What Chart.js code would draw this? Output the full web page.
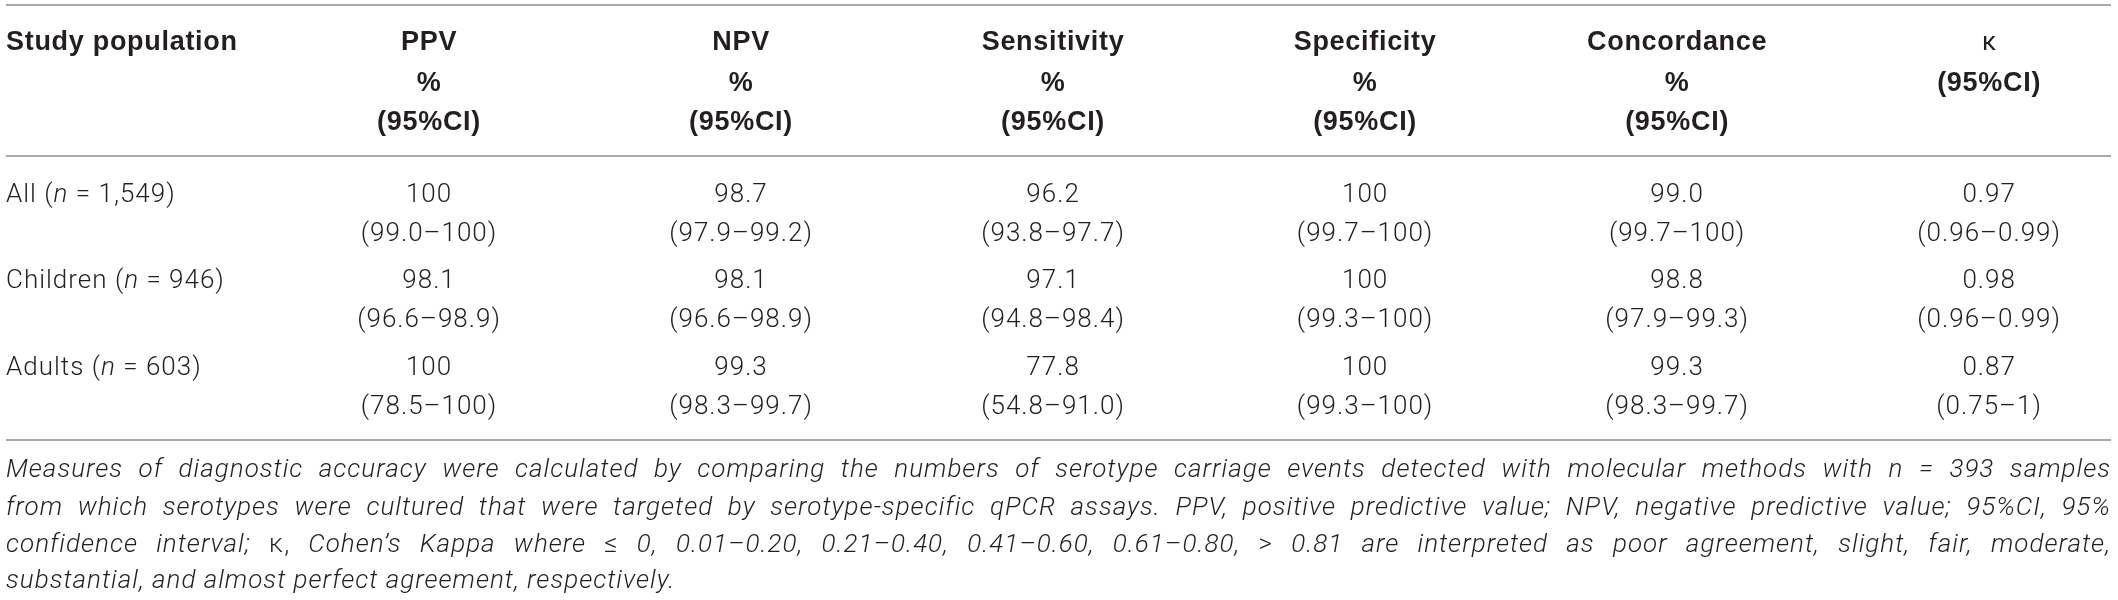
<!DOCTYPE html>
<html>
<head>
<meta charset="utf-8">
<script src="https://cdn.jsdelivr.net/npm/chart.js@4.4.1/dist/chart.umd.min.js"></script>
<style>
  html, body { margin: 0; padding: 0; background: #fff; }
  #wrap { width: 2118px; height: 600px; }
</style>
</head>
<body>
<div id="wrap"><canvas id="tableChart"></canvas></div>
<script>
// table values
var groups = ['All', 'Children', 'Adults'];
var groupN = ['1,549', '946', '603'];
var metricNames = ['PPV', 'NPV', 'Sensitivity', 'Specificity', 'Concordance', 'κ'];

var ppv = [100, 98.1, 100];
var ppvCI = [[99.0, 100], [96.6, 98.9], [78.5, 100]];
var npv = [98.7, 98.1, 99.3];
var npvCI = [[97.9, 99.2], [96.6, 98.9], [98.3, 99.7]];
var sensitivity = [96.2, 97.1, 77.8];
var sensitivityCI = [[93.8, 97.7], [94.8, 98.4], [54.8, 91.0]];
var specificity = [100, 100, 100];
var specificityCI = [[99.7, 100], [99.3, 100], [99.3, 100]];
var concordance = [99.0, 98.8, 99.3];
var concordanceCI = [[99.7, 100], [97.9, 99.3], [98.3, 99.7]];
var kappa = [0.97, 0.98, 0.87];
var kappaCI = [[0.96, 0.99], [0.96, 0.99], [0.75, 1]];

var footnote = [
  'Measures of diagnostic accuracy were calculated by comparing the numbers of serotype carriage events detected with molecular methods with n = 393 samples',
  'from which serotypes were cultured that were targeted by serotype-specific qPCR assays. PPV, positive predictive value; NPV, negative predictive value; 95%CI, 95%',
  'confidence interval; κ, Cohen’s Kappa where ≤ 0, 0.01–0.20, 0.21–0.40, 0.41–0.60, 0.61–0.80, > 0.81 are interpreted as poor agreement, slight, fair, moderate,',
  'substantial, and almost perfect agreement, respectively.'
];

function fmtPct(v) { return v === 100 ? '100' : v.toFixed(1); }
function fmtK(v) { return v === 1 ? '1' : v.toFixed(2); }

var metricValues = [ppv, npv, sensitivity, specificity, concordance, kappa];
var metricCIs = [ppvCI, npvCI, sensitivityCI, specificityCI, concordanceCI, kappaCI];

var datasets = metricValues.map(function (vals, c) {
  var f = c === 5 ? fmtK : fmtPct;
  return {
    label: metricNames[c],
    data: vals.map(function (v, i) {
      var ci = metricCIs[c][i];
      return { x: c + 1, y: i, text: f(v), ci: '(' + f(ci[0]) + '–' + f(ci[1]) + ')' };
    }),
    pointRadius: 0,
    pointHoverRadius: 0,
    showLine: false
  };
});

var TEXT = '#231f20';
var RULE = '#a9a9a9';
var BODY = '300 26px Roboto, "Liberation Sans", sans-serif';
var BODY_IT = 'italic 300 26px Roboto, "Liberation Sans", sans-serif';
var BODY_SP = '1px';
var HEAD = 'bold 27px "Liberation Sans", Arial, sans-serif';
var HEAD_SP = '0.7px';

var tablePlugin = {
  id: 'tableText',
  afterDatasetsDraw: function (chart) {
    var ctx = chart.ctx, a = chart.chartArea, xs = chart.scales.x, ys = chart.scales.y;
    var left = a.left + 6, right = a.right - 7;
    ctx.save();
    ctx.textBaseline = 'alphabetic';
    ctx.fillStyle = TEXT;

    // rules
    ctx.strokeStyle = RULE;
    ctx.lineWidth = 2;
    [5, 156, 440].forEach(function (yy) {
      ctx.beginPath();
      ctx.moveTo(left, a.top + yy);
      ctx.lineTo(right, a.top + yy);
      ctx.stroke();
    });

    // header
    var hb = [50, 91, 130];
    ctx.font = HEAD;
    ctx.letterSpacing = HEAD_SP;
    ctx.textAlign = 'left';
    ctx.fillText('Study population', left, a.top + hb[0]);
    ctx.textAlign = 'center';
    metricNames.forEach(function (name, c) {
      var px = xs.getPixelForValue(c + 1);
      if (c === 5) {
        ctx.font = BODY.replace('300', '400');
        ctx.letterSpacing = '0px';
        ctx.fillText(name, px, a.top + hb[0]);
        ctx.font = HEAD;
        ctx.letterSpacing = HEAD_SP;
        ctx.fillText('(95%CI)', px, a.top + hb[1]);
      } else {
        ctx.fillText(name, px, a.top + hb[0]);
        ctx.fillText('%', px, a.top + hb[1]);
        ctx.fillText('(95%CI)', px, a.top + hb[2]);
      }
    });

    // row labels
    ctx.letterSpacing = BODY_SP;
    ctx.textAlign = 'left';
    groups.forEach(function (g, i) {
      var py = ys.getPixelForValue(i);
      var xx = left;
      ctx.font = BODY;
      ctx.fillText(g + ' (', xx, py);
      xx += ctx.measureText(g + ' (').width;
      ctx.font = BODY_IT;
      ctx.fillText('n', xx, py);
      xx += ctx.measureText('n').width;
      ctx.font = BODY;
      ctx.fillText(' = ' + groupN[i] + ')', xx, py);
    });

    // cells
    ctx.textAlign = 'center';
    ctx.font = BODY;
    chart.data.datasets.forEach(function (ds, d) {
      chart.getDatasetMeta(d).data.forEach(function (el, i) {
        var raw = ds.data[i];
        ctx.fillText(raw.text, el.x, el.y);
        ctx.fillText(raw.ci, el.x, el.y + 39);
      });
    });

    // footnote, justified
    var fb = [477, 515, 552, 588];
    var width = right - left;
    ctx.textAlign = 'left';
    footnote.forEach(function (line, li) {
      var words = line.split(' ');
      var fonts = words.map(function (w) {
        return (w === '≤' || w === '>' || w.indexOf('κ') === 0) ? BODY : BODY_IT;
      });
      var widths = words.map(function (w, k) { ctx.font = fonts[k]; return ctx.measureText(w).width; });
      var total = widths.reduce(function (s, v) { return s + v; }, 0);
      ctx.font = BODY_IT;
      var space = ctx.measureText(' ').width;
      var gap = li < footnote.length - 1 ? (width - total) / (words.length - 1) : space;
      var xx = left;
      words.forEach(function (w, k) {
        ctx.font = fonts[k];
        ctx.fillText(w, xx, a.top + fb[li]);
        xx += widths[k] + gap;
      });
    });
    ctx.restore();
  }
};

var ctxT = document.getElementById('tableChart').getContext('2d');
var tableChart = new Chart(ctxT, {
  type: 'scatter',
  data: { datasets: datasets },
  options: {
    responsive: true,
    maintainAspectRatio: false,
    animation: false,
    events: [],
    layout: { padding: 0, autoPadding: false },
    plugins: { legend: { display: false }, tooltip: { enabled: false } },
    scales: {
      x: { type: 'linear', min: -0.375, max: 6.413, display: false },
      y: { type: 'linear', min: -2.335, max: 4.601, reverse: true, display: false }
    }
  },
  plugins: [tablePlugin]
});
</script>
</body>
</html>
